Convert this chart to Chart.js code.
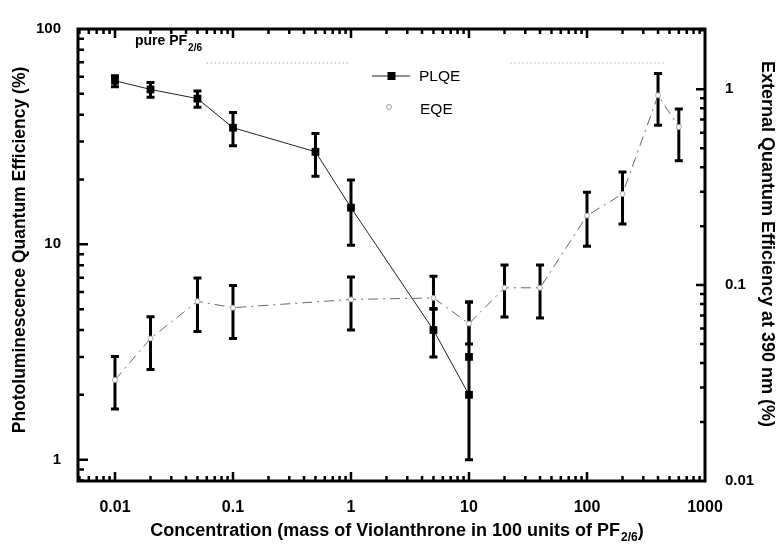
<!DOCTYPE html>
<html><head><meta charset="utf-8">
<script src="https://cdn.jsdelivr.net/npm/chart.js@4/dist/chart.umd.min.js"></script>
<style>html,body{margin:0;padding:0;background:#fff;}#wrap{width:782px;height:546px;position:relative;}</style>
</head><body><div id="wrap"><canvas id="c" width="782" height="546"></canvas></div>
<script>
// ---- data ----
const plqeConc = [0.01, 0.02, 0.05, 0.1, 0.5, 1, 5, 10, 10];
const plqeVal  = [57.5, 52.4, 47.5, 34.8, 26.9, 14.8, 4.0, 2.0, 3.0];
const plqeLow  = [53.9, 48.2, 43.3, 28.7, 20.7, 9.9, 3.0, 1.0, null];
const plqeHigh = [60.6, 56.5, 51.5, 41.0, 32.7, 19.9, 5.0, 5.4, null];

const eqeConc = [0.01, 0.02, 0.05, 0.1, 1, 5, 10, 20, 40, 100, 200, 400, 600];
const eqeVal  = [0.0328, 0.0534, 0.0827, 0.0767, 0.0845, 0.086, 0.0636, 0.0969, 0.0969, 0.2264, 0.292, 0.931, 0.641];
const eqeLow  = [0.0233, 0.0371, 0.058, 0.0534, 0.059, 0.076, 0.05, 0.0688, 0.068, 0.158, 0.205, 0.654, 0.432];
const eqeHigh = [0.0432, 0.0689, 0.1087, 0.0996, 0.11, 0.111, 0.082, 0.1266, 0.1266, 0.2977, 0.378, 1.204, 0.793];

const pureConc = [0.06, 1, 5, 22.5, 458];
const pureVal  = [69.5, 69.5, null, 69.5, 69.5];

const xTicks  = [0.01, 0.1, 1, 10, 100, 1000];
const yTicks  = [1, 10, 100];
const y2Ticks = [0.01, 0.1, 1];

const FONT = '"Liberation Sans", Arial, Helvetica, sans-serif';

function pts(xs, ys){ return xs.map((x,i)=>({x:x, y:ys[i]})); }

function minorVals(min, max){
  const out = [];
  for (let k = Math.floor(Math.log10(min)) - 1; k <= Math.ceil(Math.log10(max)); k++){
    for (let m = 1; m <= 9; m++){
      const v = m * Math.pow(10, k);
      if (v >= min*1.0001 && v <= max/1.0001) out.push({v:v, major:m===1});
    }
  }
  return out;
}

const errorBars = {
  id: 'errorBars',
  beforeDatasetsDraw(chart){
    const ctx = chart.ctx, xs = chart.scales.x;
    const draw = (conc, lo, hi, ys) => {
      conc.forEach((c,i)=>{
        if (lo[i] == null) return;
        const x = xs.getPixelForValue(c);
        const y1 = ys.getPixelForValue(lo[i]), y2 = ys.getPixelForValue(hi[i]);
        ctx.save();
        ctx.strokeStyle = '#000'; ctx.lineWidth = 3; ctx.lineCap = 'butt';
        ctx.beginPath();
        ctx.moveTo(x, y1); ctx.lineTo(x, y2);
        ctx.moveTo(x-4, y1); ctx.lineTo(x+4, y1);
        ctx.moveTo(x-4, y2); ctx.lineTo(x+4, y2);
        ctx.stroke();
        ctx.restore();
      });
    };
    draw(plqeConc, plqeLow, plqeHigh, chart.scales.y);
    draw(eqeConc, eqeLow, eqeHigh, chart.scales.y2);
  }
};

const decor = {
  id: 'decor',
  afterDraw(chart){
    const ctx = chart.ctx, a = chart.chartArea;
    const xs = chart.scales.x, ys = chart.scales.y, y2 = chart.scales.y2;
    ctx.save();
    // frame
    ctx.strokeStyle = '#000'; ctx.lineWidth = 3;
    ctx.strokeRect(a.left, a.top, a.right - a.left, a.bottom - a.top);
    // ticks
    ctx.lineWidth = 2.5;
    ctx.beginPath();
    minorVals(xs.min, xs.max).forEach(t=>{
      const p = xs.getPixelForValue(t.v), L = t.major ? 9 : 5;
      ctx.moveTo(p, a.bottom); ctx.lineTo(p, a.bottom - L);
      ctx.moveTo(p, a.top); ctx.lineTo(p, a.top + L);
    });
    minorVals(ys.min, ys.max).forEach(t=>{
      const p = ys.getPixelForValue(t.v), L = t.major ? 10 : 6;
      ctx.moveTo(a.left, p); ctx.lineTo(a.left + L, p);
    });
    minorVals(y2.min, y2.max).forEach(t=>{
      const p = y2.getPixelForValue(t.v), L = t.major ? 9 : 5;
      ctx.moveTo(a.right, p); ctx.lineTo(a.right - L, p);
    });
    ctx.stroke();

    // legend
    ctx.lineWidth = 1; ctx.strokeStyle = '#222';
    ctx.beginPath(); ctx.moveTo(372, 76); ctx.lineTo(410, 76); ctx.stroke();
    ctx.fillStyle = '#000'; ctx.fillRect(387.5, 72, 8, 8);
    ctx.fillStyle = '#fff'; ctx.strokeStyle = '#999';
    ctx.beginPath(); ctx.arc(389, 107, 2.5, 0, Math.PI*2); ctx.fill(); ctx.stroke();
    ctx.fillStyle = '#000'; ctx.textBaseline = 'middle'; ctx.textAlign = 'left';
    ctx.font = '15.5px ' + FONT;
    ctx.fillText('PLQE', 419, 77);
    ctx.fillText('EQE', 420, 110);

    // "pure PF2/6" label
    ctx.font = 'bold 14px ' + FONT;
    ctx.fillText('pure PF', 135, 41);
    let w = ctx.measureText('pure PF').width;
    ctx.font = 'bold 10px ' + FONT;
    ctx.fillText('2/6', 135 + w + 1, 48);

    // x title
    ctx.font = 'bold 18px ' + FONT;
    const main = 'Concentration (mass of Violanthrone in 100 units of PF';
    const wm = ctx.measureText(main).width;
    ctx.font = 'bold 12px ' + FONT;
    const ws = ctx.measureText('2/6').width;
    ctx.font = 'bold 18px ' + FONT;
    const wp = ctx.measureText(')').width;
    const total = wm + ws + wp + 1;
    let x0 = 397 - total/2;
    ctx.fillText(main, x0, 531);
    ctx.font = 'bold 12px ' + FONT;
    ctx.fillText('2/6', x0 + wm + 1, 538);
    ctx.font = 'bold 18px ' + FONT;
    ctx.fillText(')', x0 + wm + ws + 1, 531);

    // y titles
    ctx.textAlign = 'center';
    ctx.save();
    ctx.font = 'bold 17.5px ' + FONT;
    ctx.translate(20, 250); ctx.rotate(-Math.PI/2);
    ctx.fillText('Photoluminescence Quantum Efficiency (%)', 0, 0);
    ctx.restore();
    ctx.save();
    ctx.font = 'bold 18px ' + FONT;
    ctx.translate(767, 244); ctx.rotate(Math.PI/2);
    ctx.fillText('External Quantum Efficiency at 390 nm (%)', 0, 0);
    ctx.restore();
    ctx.restore();
  }
};

const yFont = {family: FONT, size: 15, weight: 'bold'};
const xFont = {family: FONT, size: 16, weight: 'bold'};

new Chart(document.getElementById('c'), {
  type: 'scatter',
  data: {
    datasets: [
      { label: 'pure PF2/6', data: pts(pureConc, pureVal), yAxisID: 'y', showLine: true,
        borderColor: '#888', borderWidth: 1, borderDash: [1, 3], pointRadius: 0, spanGaps: false },
      { label: 'EQE', data: pts(eqeConc, eqeVal), yAxisID: 'y2', showLine: true,
        borderColor: '#666', borderWidth: 1, borderDash: [10, 5, 2, 5],
        pointStyle: 'circle', pointRadius: 2.5, pointBackgroundColor: '#fff', pointBorderColor: '#aaa', pointBorderWidth: 1 },
      { label: 'PLQE', data: pts(plqeConc, plqeVal), yAxisID: 'y', showLine: true,
        borderColor: '#222', borderWidth: 1,
        pointStyle: 'rect', pointRadius: 5.5, pointBackgroundColor: '#000', pointBorderColor: '#000', pointBorderWidth: 0 }
    ]
  },
  options: {
    responsive: false, animation: false, devicePixelRatio: 1,
    layout: { padding: { top: 15, left: 0, right: 0, bottom: 0 } },
    plugins: { legend: { display: false }, tooltip: { enabled: false } },
    scales: {
      x: { type: 'logarithmic', position: 'bottom', min: 0.00486, max: 1000,
        grid: { display: false, drawTicks: false }, border: { display: false },
        afterBuildTicks: s => { s.ticks = xTicks.map(v => ({value: v})); },
        afterFit: s => { s.height = 65; },
        ticks: { color: '#000', font: xFont, padding: 17, autoSkip: false, maxRotation: 0, minRotation: 0,
          callback: v => String(v) } },
      y: { type: 'logarithmic', position: 'left', min: 0.796, max: 100,
        grid: { display: false, drawTicks: false }, border: { display: false },
        afterBuildTicks: s => { s.ticks = yTicks.map(v => ({value: v})); },
        afterFit: s => { s.width = 78; },
        ticks: { color: '#000', font: yFont, padding: 17, autoSkip: false, callback: v => String(v) } },
      y2: { type: 'logarithmic', position: 'right', min: 0.01, max: 2.03,
        grid: { display: false, drawTicks: false }, border: { display: false },
        afterBuildTicks: s => { s.ticks = y2Ticks.map(v => ({value: v})); },
        afterFit: s => { s.width = 77; },
        ticks: { color: '#000', font: yFont, padding: 20, autoSkip: false, callback: v => String(v) } }
    }
  },
  plugins: [errorBars, decor]
});
</script></body></html>
